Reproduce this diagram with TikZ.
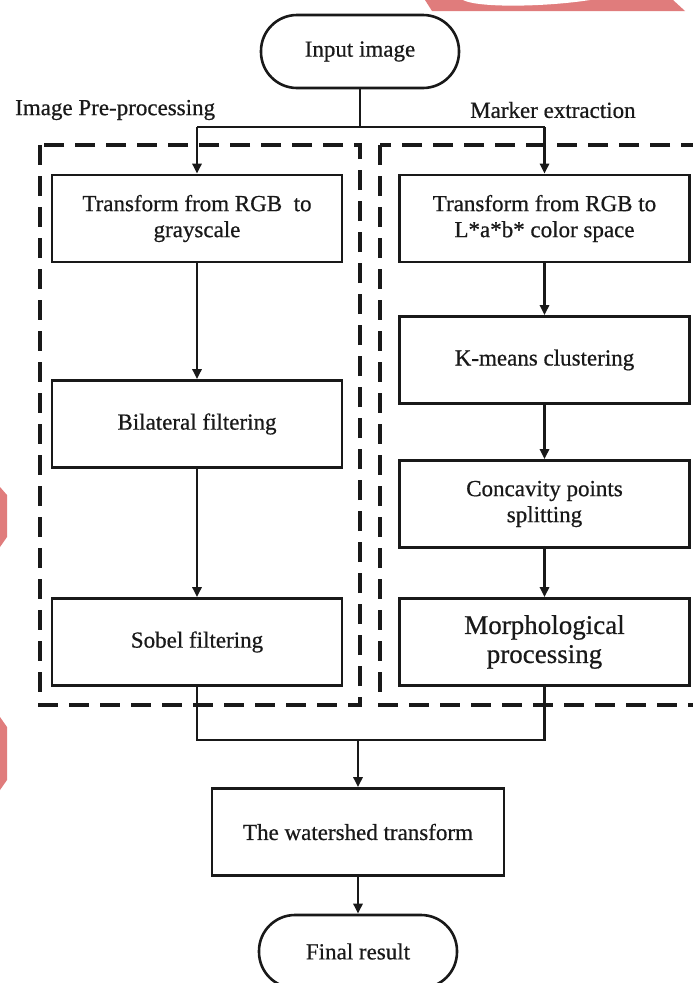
\documentclass[tikz,border=0pt]{standalone}
\usepackage{fontspec}
\setmainfont{Liberation Serif}[FakeBold=0.6]
\usetikzlibrary{arrows.meta}
\definecolor{ink}{RGB}{25,25,25}
\definecolor{wm}{RGB}{224,124,124}
\begin{document}
\begin{tikzpicture}[x=1pt,y=-1pt,
  txt/.style={font=\fontsize{23}{26}\selectfont, text=ink},
  box/.style={txt, draw=ink, line width=2.6pt, minimum width=290pt, minimum height=87pt, inner sep=0pt, align=center},
  term/.style={txt, draw=ink, line width=2.6pt, minimum width=198pt, minimum height=73pt, rounded corners=36pt, inner sep=0pt},
  conn/.style={draw=ink, line width=2.6pt},
  arr/.style={conn, -{Triangle[length=10pt,width=9pt]}},
  grp/.style={draw=ink, line width=3.5pt, dash pattern=on 20pt off 11pt},
  lbl/.style={txt, anchor=west, inner sep=0pt}]
\useasboundingbox (0,0) rectangle (693,983);
\clip (0,0) rectangle (693,983);
\fill[white] (0,0) rectangle (693,983);
% background marks
\fill[wm] (425,0) -- (673,0) -- (685,11) -- (432,11) -- cycle;
\fill[white] (463,0) .. controls (478,8) and (545,7) .. (590,0) -- cycle;
\fill[wm] (0,487) -- (7,495) -- (7,537) -- (0,547) -- cycle;
\fill[wm] (0,717) -- (7,727) -- (7,780) -- (0,790) -- cycle;
% groups
\draw[grp] (40,145) rectangle (360,705);
\draw[grp] (380,145) rectangle (740,705);
\node[lbl] (lpre) at (15,110) {Image Pre-processing};
\node[lbl] (lmark) at (470,110) {Marker extraction};
% nodes
\node[term] (in) at (360,51.5) {Input image};
\node[box] (b1) at (197,218.5) {Transform from RGB~ to\\grayscale};
\node[box] (b2) at (197,424) {Bilateral filtering};
\node[box] (b3) at (197,642) {Sobel filtering};
\node[box] (r1) at (544.5,218.5) {Transform from RGB to\\L*a*b* color space};
\node[box] (r2) at (544.5,360) {K-means clustering};
\node[box] (r3) at (544.5,504) {Concavity points\\splitting};
\node[box, font=\fontsize{27}{29}\selectfont] (r4) at (544.5,642) {Morphological\\processing};
\node[box, minimum width=292pt] (ws) at (358,832) {The watershed transform};
\node[term] (out) at (358,951.5) {Final result};
% connectors
\coordinate (sp) at (360,127);
\coordinate (spL) at (197,127);
\coordinate (spR) at (544.5,127);
\coordinate (jL) at (197,740);
\coordinate (jR) at (544.5,740);
\coordinate (jC) at (358,740);
\draw[conn] (in) -- (sp);
\draw[conn] (spL) -- (spR);
\draw[arr] (spL) -- (b1);
\draw[arr] (spR) -- (r1);
\draw[arr] (b1) -- (b2);
\draw[arr] (b2) -- (b3);
\draw[arr] (r1) -- (r2);
\draw[arr] (r2) -- (r3);
\draw[arr] (r3) -- (r4);
\draw[conn] (b3) -- (jL) -- (jR) -- (r4);
\draw[arr] (jC) -- (ws);
\draw[arr] (ws) -- (out);
\end{tikzpicture}
\end{document}
